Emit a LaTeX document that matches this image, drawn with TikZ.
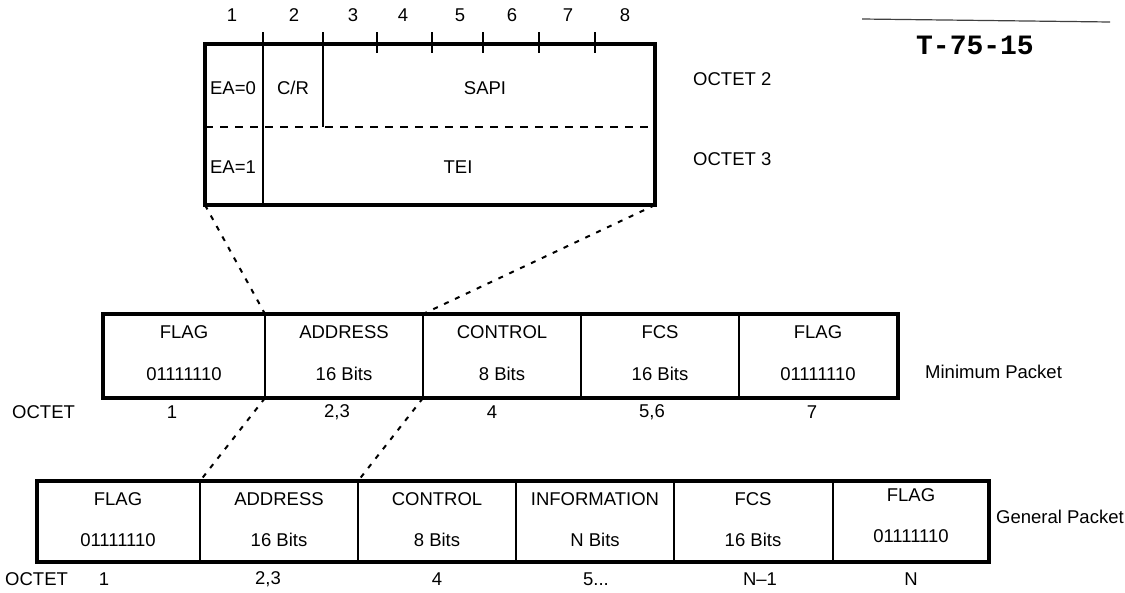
\documentclass[tikz,border=0pt]{standalone}
\usepackage{fontspec}
\setmainfont{Liberation Sans}
\newfontfamily\stampfont{Liberation Mono}
\begin{document}
\begin{tikzpicture}[x=1pt,y=-1pt,
  lbl/.style={font=\fontsize{18.5}{22}\selectfont, inner sep=0pt},
  cellbox/.style={draw=none, inner sep=0pt, outer sep=0pt, anchor=north west},
  outerline/.style={line width=3.2pt, line join=miter},
  divline/.style={line width=2pt},
  conn/.style={line width=2pt, dash pattern=on 5pt off 7pt}]
\useasboundingbox (0,0) rectangle (1125,592);

% ---------- top address field ----------
\node[cellbox, draw, line width=3.2pt, minimum width=450pt, minimum height=161pt] (top) at (205,44) {};
\coordinate (v1a) at (263,32);  \coordinate (v1b) at (263,205);
\coordinate (v2a) at (323,32);  \coordinate (v2b) at (323,127);
\draw[line width=2.2pt] (v1a) -- (v1b);
\draw[line width=2.2pt] (v2a) -- (v2b);
\foreach \x [count=\i] in {377,432,483,539,595}{
  \coordinate (tk\i a) at (\x,32); \coordinate (tk\i b) at (\x,53);
  \draw[line width=2pt] (tk\i a) -- (tk\i b);
}
\coordinate (dl) at (205,127); \coordinate (dr) at (655,127);
\draw[line width=2pt, dash pattern=on 8pt off 7pt] (dl) -- (dr);
\foreach \x/\t in {232/1,294/2,353/3,403/4,460/5,512/6,568/7,625/8}
  \node[lbl] (num\t) at (\x,15) {\t};
\node[lbl] (ea0) at (233,88) {EA=0};
\node[lbl] (cr) at (293,88) {C/R};
\node[lbl] (sapi) at (485,88) {SAPI};
\node[lbl] (ea1) at (233,167) {EA=1};
\node[lbl] (tei) at (458,167) {TEI};
\node[lbl, anchor=west] (oct2) at (693,79) {OCTET 2};
\node[lbl, anchor=west] (oct3) at (693,159) {OCTET 3};

% ---------- stamp ----------
\coordinate (hl1) at (862,19); \coordinate (hl2) at (1110,22);
\draw[line width=1.2pt, black!75] (hl1) -- (hl2);
\node[font=\stampfont\bfseries\fontsize{28}{30}\selectfont, inner sep=0pt] (stamp) at (975,45) {T-75-15};

% ---------- minimum packet ----------
\node[cellbox, minimum width=162pt, minimum height=84pt] (m1) at (103,314) {};
\node[cellbox, minimum width=158pt, minimum height=84pt] (m2) at (265,314) {};
\node[cellbox, minimum width=158pt, minimum height=84pt] (m3) at (423,314) {};
\node[cellbox, minimum width=158pt, minimum height=84pt] (m4) at (581,314) {};
\node[cellbox, minimum width=159pt, minimum height=84pt] (m5) at (739,314) {};
\draw[outerline] (m1.north west) rectangle (m5.south east);
\foreach \i in {2,...,5} \draw[divline] (m\i.north west) -- (m\i.south west);
\foreach \x/\a/\b [count=\i] in {184/FLAG/01111110,344/ADDRESS/16 Bits,502/CONTROL/8 Bits,660/FCS/16 Bits,818/FLAG/01111110}{
  \node[lbl] (mt\i) at (\x,332) {\a};
  \node[lbl] (mb\i) at (\x,374) {\b};
}
\node[lbl, anchor=west] (minlbl) at (925,372) {Minimum Packet};
\node[lbl, anchor=west] (moct) at (12,412) {OCTET};
\node[lbl] (mo1) at (172,412) {1};
\node[lbl] (mo2) at (337,412) {2,3};
\node[lbl] (mo3) at (492,412) {4};
\node[lbl] (mo4) at (652,412) {5,6};
\node[lbl] (mo5) at (812,412) {7};

% ---------- general packet ----------
\node[cellbox, minimum width=163pt, minimum height=81pt] (g1) at (37,481) {};
\node[cellbox, minimum width=158pt, minimum height=81pt] (g2) at (200,481) {};
\node[cellbox, minimum width=158pt, minimum height=81pt] (g3) at (358,481) {};
\node[cellbox, minimum width=158pt, minimum height=81pt] (g4) at (516,481) {};
\node[cellbox, minimum width=159pt, minimum height=81pt] (g5) at (674,481) {};
\node[cellbox, minimum width=156pt, minimum height=81pt] (g6) at (833,481) {};
\draw[outerline] (g1.north west) rectangle (g6.south east);
\foreach \i in {2,...,6} \draw[divline] (g\i.north west) -- (g\i.south west);
\foreach \x/\a/\b [count=\i] in {118/FLAG/01111110,279/ADDRESS/16 Bits,437/CONTROL/8 Bits,595/INFORMATION/N Bits,753/FCS/16 Bits}{
  \node[lbl] (gt\i) at (\x,499) {\a};
  \node[lbl] (gb\i) at (\x,540) {\b};
}
\node[lbl] (gt6) at (911,495) {FLAG};
\node[lbl] (gb6) at (911,536) {01111110};
\node[lbl, anchor=west] (genlbl) at (996,517) {General Packet};
\node[lbl, anchor=west] (goct) at (5,579) {OCTET};
\node[lbl] (go1) at (104,579) {1};
\node[lbl] (go2) at (268,579) {2,3};
\node[lbl] (go3) at (437,579) {4};
\node[lbl] (go4) at (596,579) {5...};
\node[lbl] (go5) at (760,579) {N\textendash1};
\node[lbl] (go6) at (911,579) {N};

% ---------- expansion connectors ----------
\draw[conn] (top.south west) -- (m2.north west);
\draw[conn] (top.south east) -- (m3.north west);
\draw[conn] (m2.south west) -- (g2.north west);
\draw[conn] (m3.south west) -- (g3.north west);
\end{tikzpicture}
\end{document}
